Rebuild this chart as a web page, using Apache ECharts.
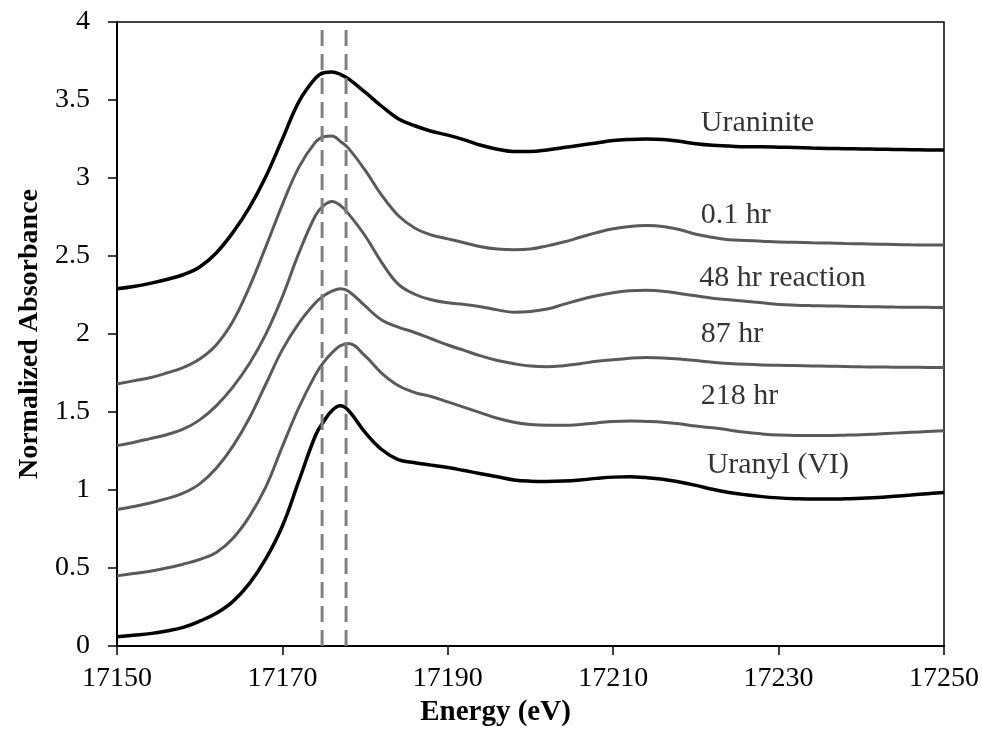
<!DOCTYPE html>
<html>
<head>
<meta charset="utf-8">
<script src="https://cdn.jsdelivr.net/npm/echarts@6/dist/echarts.min.js"></script>
<style>
html,body{margin:0;padding:0;background:#fff;}
#chart{width:982px;height:732px;}
</style>
</head>
<body>
<div id="chart"></div>
<script>
// Energy grid (eV): every 2 eV, with 1 eV steps around the white line
var energy = [17150,17152,17154,17156,17158,17160,17162,17164,17166,17168,17170,17172,17174,17175,17176,17177,17178,17180,17182,17184,17186,17188,17190,17192,17194,17196,17198,17200,17202,17204,17206,17208,17210,17212,17214,17216,17218,17220,17222,17224,17226,17228,17230,17232,17234,17236,17238,17240,17242,17244,17246,17248,17250];

var uraninite = [2.29,2.305,2.325,2.35,2.38,2.43,2.52,2.65,2.81,3.01,3.25,3.49,3.64,3.675,3.68,3.665,3.635,3.55,3.46,3.38,3.335,3.30,3.275,3.245,3.21,3.185,3.17,3.17,3.18,3.195,3.21,3.225,3.24,3.247,3.25,3.247,3.235,3.22,3.21,3.205,3.20,3.20,3.198,3.195,3.192,3.19,3.188,3.186,3.185,3.183,3.182,3.18,3.18];
var hr01 = [1.68,1.70,1.72,1.75,1.785,1.84,1.93,2.08,2.30,2.56,2.83,3.07,3.23,3.265,3.27,3.235,3.19,3.05,2.89,2.76,2.68,2.635,2.61,2.585,2.56,2.545,2.54,2.545,2.565,2.59,2.62,2.65,2.675,2.69,2.695,2.69,2.67,2.64,2.62,2.605,2.60,2.595,2.59,2.588,2.585,2.583,2.58,2.578,2.576,2.574,2.572,2.571,2.57];
var hr48 = [1.285,1.305,1.33,1.355,1.39,1.45,1.54,1.66,1.81,2.00,2.24,2.52,2.76,2.825,2.85,2.825,2.77,2.63,2.46,2.32,2.255,2.22,2.20,2.19,2.175,2.155,2.14,2.145,2.16,2.19,2.22,2.245,2.265,2.278,2.28,2.275,2.26,2.245,2.23,2.22,2.21,2.20,2.19,2.185,2.182,2.18,2.178,2.176,2.175,2.173,2.172,2.171,2.17];
var hr87 = [0.875,0.895,0.917,0.945,0.98,1.04,1.14,1.28,1.46,1.68,1.90,2.07,2.20,2.245,2.275,2.29,2.275,2.18,2.09,2.045,2.01,1.97,1.93,1.895,1.86,1.83,1.81,1.795,1.79,1.797,1.81,1.825,1.835,1.845,1.85,1.847,1.84,1.83,1.82,1.812,1.806,1.802,1.80,1.798,1.796,1.794,1.792,1.79,1.789,1.788,1.787,1.786,1.785];
var hr218 = [0.45,0.465,0.48,0.50,0.525,0.555,0.60,0.69,0.83,1.02,1.28,1.53,1.74,1.82,1.88,1.925,1.94,1.86,1.75,1.67,1.625,1.60,1.565,1.53,1.495,1.46,1.435,1.42,1.415,1.415,1.42,1.43,1.44,1.443,1.44,1.435,1.425,1.41,1.40,1.385,1.37,1.36,1.353,1.35,1.35,1.35,1.352,1.355,1.36,1.365,1.37,1.375,1.38];
var uranyl = [0.06,0.07,0.08,0.097,0.12,0.16,0.21,0.285,0.40,0.56,0.77,1.06,1.35,1.44,1.51,1.54,1.51,1.37,1.26,1.195,1.175,1.16,1.145,1.125,1.105,1.085,1.065,1.057,1.055,1.058,1.065,1.075,1.083,1.085,1.08,1.07,1.052,1.03,1.005,0.985,0.97,0.958,0.95,0.945,0.942,0.942,0.944,0.948,0.952,0.96,0.968,0.977,0.985];

// Reference energies (dashed lines)
var refEnergies = [17174.8, 17177.7];
var refTop = 3.96;

// Curve labels
var labelNames = ['Uraninite','0.1 hr','48 hr reaction','87 hr','218 hr','Uranyl (VI)'];
var labelX = [17220.6,17220.6,17220.4,17220.6,17220.6,17221.3];
var labelY = [3.355,2.764,2.357,1.997,1.601,1.159];

// Axis ticks
var xTicks = [17150,17170,17190,17210,17230,17250];

var FONT = 'Liberation Serif';
function pairs(vals){ return energy.map(function(e,i){ return [e, vals[i]]; }); }
function curve(name, vals, color, width){
  return {name:name, type:'line', data:pairs(vals), smooth:0.4, showSymbol:false, symbol:'none',
    lineStyle:{color:color, width:width}, z:3};
}

var series = [
  curve('Uraninite', uraninite, '#000000', 3.5),
  curve('0.1 hr', hr01, '#5a5a5a', 3),
  curve('48 hr reaction', hr48, '#5a5a5a', 3),
  curve('87 hr', hr87, '#5a5a5a', 3),
  curve('218 hr', hr218, '#5a5a5a', 3),
  curve('Uranyl (VI)', uranyl, '#000000', 3.5)
];
refEnergies.forEach(function(e){
  series.push({type:'line', data:[[e,0],[e,refTop]], showSymbol:false, symbol:'none',
    lineStyle:{color:'#808080', width:3, type:[16,8]}, z:4});
});
series.push({type:'scatter', symbolSize:0, z:5,
  data: labelNames.map(function(n,i){ return {value:[labelX[i], labelY[i]], name:n}; }),
  label:{show:true, position:'right', distance:0, align:'left', verticalAlign:'middle',
    formatter:function(p){ return p.name; }, fontFamily:FONT, fontSize:30, color:'#000'}
});

var chart = echarts.init(document.getElementById('chart'), null, {renderer:'canvas'});
chart.setOption({
  animation:false,
  backgroundColor:'#ffffff',
  grid:{left:117, right:38, top:22, bottom:81, show:true, borderColor:'#000', borderWidth:1.5, containLabel:false},
  xAxis:{type:'value', min:17150, max:17250, interval:10,
    name:'Energy (eV)', nameLocation:'middle', nameGap:46,
    nameTextStyle:{fontFamily:FONT, fontSize:29, fontWeight:'bold', color:'#000', padding:[0,70,0,0]},
    axisLine:{show:true, lineStyle:{color:'#000', width:2}},
    axisTick:{show:true, inside:false, length:9, customValues:xTicks, lineStyle:{color:'#000', width:1.5}},
    axisLabel:{customValues:xTicks, formatter:function(v){ return String(v); }, fontFamily:FONT, fontSize:28, color:'#000', margin:19},
    splitLine:{show:false}
  },
  yAxis:{type:'value', min:0, max:4, interval:0.5,
    name:'Normalized Absorbance', nameLocation:'middle', nameGap:64, nameRotate:90,
    nameTextStyle:{fontFamily:FONT, fontSize:28, fontWeight:'bold', color:'#000'},
    axisLine:{show:true, lineStyle:{color:'#000', width:2}},
    axisTick:{show:true, inside:false, length:9, lineStyle:{color:'#000', width:1.5}},
    axisLabel:{fontFamily:FONT, fontSize:28, color:'#000', margin:27},
    splitLine:{show:false}
  },
  series:series
});
</script>
</body>
</html>
